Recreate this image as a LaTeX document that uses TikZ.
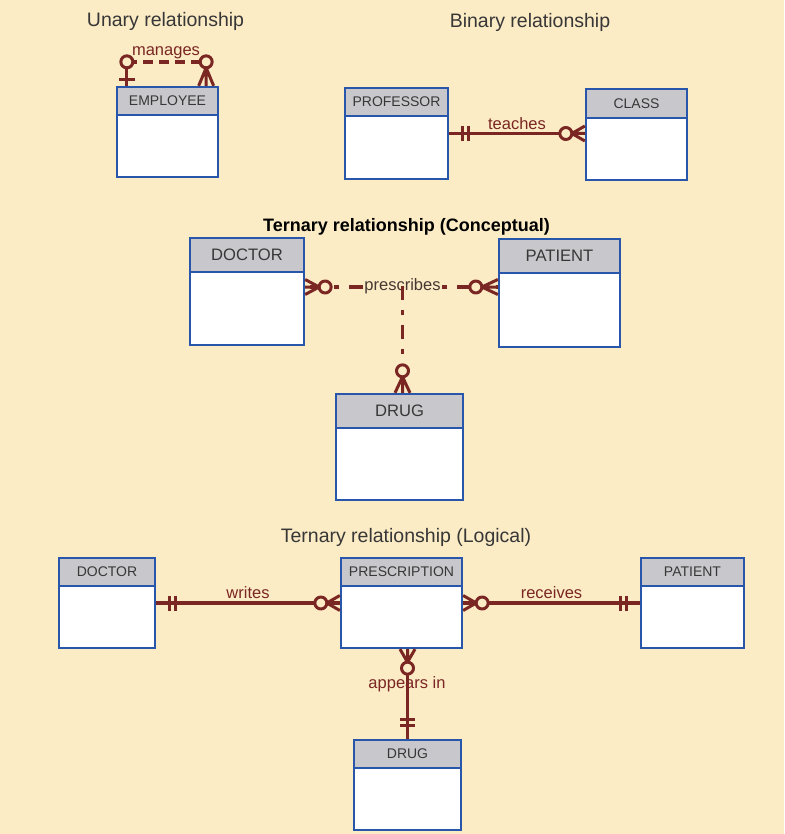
\documentclass[tikz,border=0pt]{standalone}
\usepackage{fontspec}
\setmainfont{Liberation Sans}
\usetikzlibrary{calc}

\definecolor{bgcol}{RGB}{252,236,198}
\definecolor{boxblue}{RGB}{40,86,170}
\definecolor{headgray}{RGB}{200,200,204}
\definecolor{relred}{RGB}{122,38,34}
\definecolor{labgray}{RGB}{70,56,50}
\definecolor{txtgray}{RGB}{55,55,55}

\tikzset{
  entity/.style={draw=boxblue, line width=2.3pt, fill=white, inner sep=0pt},
  ehead/.style={draw=boxblue, line width=2.3pt, fill=headgray, inner sep=0pt,
    text=txtgray, anchor=north},
  fsmall/.style={font=\fontsize{14}{16}\selectfont},
  fbig/.style={font=\fontsize{16.6}{19}\selectfont},
  title/.style={font=\fontsize{19.5}{22}\selectfont, text=txtgray, anchor=base},
  rlabel/.style={font=\fontsize{16.5}{19}\selectfont, text=relred, anchor=base, inner sep=1pt},
  rel/.style={draw=relred, line width=3.4pt},
  erline/.style={draw=relred, line width=3pt, line join=round},
  dashdot/.style={dash pattern=on 14pt off 10pt on 5pt off 10pt},
  % crow's foot symbols, +x points away from the entity
  pics/zmany/.style={code={
    \draw[erline] (0,-7.5) -- (#1-6,0) -- (0,7.5) (0,0) -- (#1-6,0);
    \draw[erline, fill=bgcol] (#1,0) circle (6pt);
  }},
  pics/zone/.style={code={
    \draw[erline] (0,0) -- (#1-6,0) (6,-8) -- (6,8);
    \draw[erline, fill=bgcol] (#1,0) circle (6pt);
  }},
  pics/mone/.style={code={
    \draw[erline] (13,-7.5) -- (13,7.5) (19.5,-7.5) -- (19.5,7.5);
  }},
}

\begin{document}
\begin{tikzpicture}[x=1pt, y=-1pt]
  \fill[bgcol] (0,0) rectangle (784,834);
  \useasboundingbox (0,0) rectangle (784,834);

  % titles
  \node[title] (tun) at (165.5,27) {Unary relationship};
  \node[title] (tbin) at (530,28) {Binary relationship};
  \node[title, font=\bfseries\fontsize{18}{21}\selectfont, text=black] (tcon) at (406.5,231) {Ternary relationship (Conceptual)};
  \node[title] (tlog) at (406,542) {Ternary relationship (Logical)};

  % unary
  \node[entity, minimum width=101pt, minimum height=90pt] (emp) at (167.5,132) {};
  \node[ehead, fsmall, minimum width=101pt, minimum height=28pt] (emph) at (emp.north) {EMPLOYEE};

  % binary
  \node[entity, minimum width=103pt, minimum height=91pt] (prof) at (396.5,133.5) {};
  \node[ehead, fsmall, minimum width=103pt, minimum height=28pt] (profh) at (prof.north) {PROFESSOR};
  \node[entity, minimum width=101pt, minimum height=91pt] (cls) at (636.5,134.5) {};
  \node[ehead, fsmall, minimum width=101pt, minimum height=29pt] (clsh) at (cls.north) {CLASS};

  % ternary, conceptual
  \node[entity, minimum width=114pt, minimum height=107pt] (doc) at (247,291.5) {};
  \node[ehead, fbig, minimum width=114pt, minimum height=34pt] (doch) at (doc.north) {DOCTOR};
  \node[entity, minimum width=121pt, minimum height=108pt] (pat) at (559.5,293) {};
  \node[ehead, fbig, minimum width=121pt, minimum height=34pt] (path) at (pat.north) {PATIENT};
  \node[entity, minimum width=127pt, minimum height=106pt] (drug) at (399.5,447) {};
  \node[ehead, fbig, minimum width=127pt, minimum height=34pt] (drugh) at (drug.north) {DRUG};

  % ternary, logical
  \node[entity, minimum width=96pt, minimum height=90pt] (ldoc) at (107,603) {};
  \node[ehead, fsmall, minimum width=96pt, minimum height=28pt] (ldoch) at (ldoc.north) {DOCTOR};
  \node[entity, minimum width=121pt, minimum height=90pt] (presc) at (401.5,603) {};
  \node[ehead, fsmall, minimum width=121pt, minimum height=28pt] (presch) at (presc.north) {PRESCRIPTION};
  \node[entity, minimum width=103pt, minimum height=90pt] (lpat) at (692.5,603) {};
  \node[ehead, fsmall, minimum width=103pt, minimum height=28pt] (lpath) at (lpat.north) {PATIENT};
  \node[entity, minimum width=107pt, minimum height=90pt] (ldrug) at (407.5,785) {};
  \node[ehead, fsmall, minimum width=107pt, minimum height=28pt] (ldrugh) at (ldrug.north) {DRUG};

  % manages
  \coordinate (mgL) at ($(emp.north west)+(11,-24)$);
  \coordinate (mgR) at ($(emp.north east)+(-13,-24)$);
  \draw[rel, dash pattern=on 10pt off 6pt] (mgL) -- (mgR);
  \pic[rotate=90] at ($(emp.north west)+(11,0)$) {zone=24};
  \pic[rotate=90] at ($(emp.north east)+(-13,0)$) {zmany=24};
  \node[rlabel] (mg) at (166,56) {manages};

  % teaches
  \draw[rel] (prof.east) -- (prof.east -| cls.west);
  \pic at (prof.east) {mone};
  \pic[rotate=180] at (prof.east -| cls.west) {zmany=19};
  \node[rlabel] (tch) at (517,129.5) {teaches};

  % prescribes
  \node[rlabel, text=labgray] (pr) at (402.5,290) {prescribes};
  \coordinate (dA) at ($(doc.east)+(0,-4.5)$);
  \coordinate (pA) at (pat.west |- dA);
  \coordinate (gA) at (pr.center |- drug.north);
  \draw[rel, dashdot] (dA -| pr.west) -- (dA);
  \draw[rel, dashdot, dash phase=24pt] (pA -| pr.east) -- (pA);
  \draw[rel, dashdot] (pr.center) -- (gA);
  \pic at (dA) {zmany=20};
  \pic[rotate=180] at (pA) {zmany=22};
  \pic[rotate=90] at (gA) {zmany=22};

  % writes, receives, appears in
  \draw[rel] (ldoc.east) -- (presc.west);
  \draw[rel] (presc.east) -- (lpat.west);
  \draw[rel] (ldrug.north |- presc.south) -- (ldrug.north);
  \pic at (ldoc.east) {mone};
  \pic[rotate=180] at (presc.west) {zmany=19};
  \pic at (presc.east) {zmany=19};
  \pic[rotate=180] at (lpat.west) {mone};
  \pic[rotate=-90] at (ldrug.north |- presc.south) {zmany=19};
  \pic[rotate=90] at (ldrug.north) {mone};
  \node[rlabel] (wr) at (248,598) {writes};
  \node[rlabel] (rc) at (551.5,598) {receives};
  \node[rlabel] (ap) at (407,688) {appears in};
\end{tikzpicture}
\end{document}
